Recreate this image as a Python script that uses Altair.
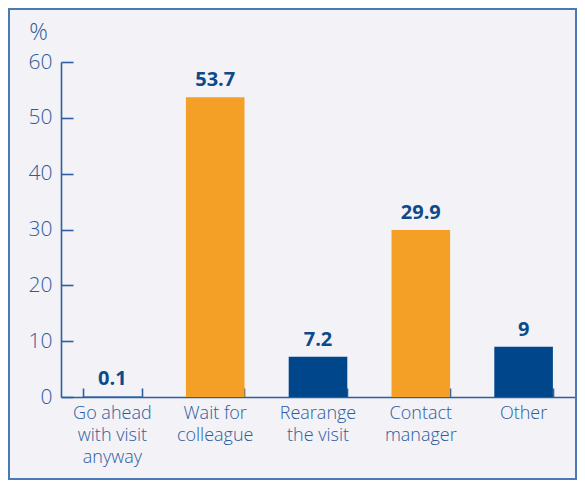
import altair as alt
import pandas as pd

categories = ["Go ahead\nwith visit\nanyway", "Wait for\ncolleague", "Rearange\nthe visit",
              "Contact\nmanager", "Other"]
values = [0.1, 53.7, 7.2, 29.9, 9]
value_labels = ["0.1", "53.7", "7.2", "29.9", "9"]
bar_colors = ["#00468b", "#f4a026", "#00468b", "#f4a026", "#00468b"]
y_ticks = [0, 10, 20, 30, 40, 50, 60]

df = pd.DataFrame({"category": categories, "value": values, "label": value_labels})

W, H = 514, 335
AXIS = "#2e5f9e"
LABEL = "#2d5c9b"
VALUE = "#0c4a8a"
FONT = "Open Sans"

x_scale = alt.Scale(domain=categories, paddingInner=0.43, paddingOuter=0.215)
y_scale = alt.Scale(domain=[0, 60], nice=False)

base = alt.Chart(df)

bars = base.mark_bar().encode(
    x=alt.X("category:N", sort=categories, scale=x_scale,
            axis=alt.Axis(orient="bottom", ticks=False, domain=True, domainColor=AXIS,
                          domainWidth=1.6, labelAngle=0, labelColor=LABEL,
                          labelExpr="split(datum.label, '\\n')", labelFont=FONT,
                          labelFontSize=18, labelFontWeight=300, labelLineHeight=22,
                          labelPadding=7, labelBaseline="top", title=None)),
    y=alt.Y("value:Q", scale=y_scale,
            axis=alt.Axis(values=y_ticks, ticks=False, domain=True, domainColor=AXIS,
                          domainWidth=1.6, grid=False, labelColor=LABEL, labelFont=FONT,
                          labelFontSize=21, labelFontWeight=300, labelPadding=9,
                          title="%", titleAngle=0, titleAlign="center",
                          titleBaseline="bottom", titleX=-23, titleY=-18, titleFont=FONT,
                          titleFontSize=23, titleFontWeight=300, titleColor=LABEL)),
    color=alt.Color("category:N", scale=alt.Scale(domain=categories, range=bar_colors),
                    legend=None),
)

text = base.mark_text(dy=-7, baseline="bottom", font=FONT, fontSize=20,
                      fontWeight="bold", color=VALUE).encode(
    x=alt.X("category:N", sort=categories, scale=x_scale,
            axis=alt.Axis(orient="top", offset=-H, labels=False, domain=False, ticks=True,
                          tickBand="extent", tickSize=9, tickColor=AXIS, tickWidth=1.6,
                          title=None)),
    y=alt.Y("value:Q", scale=y_scale,
            axis=alt.Axis(orient="right", offset=-W, labels=False, domain=False, ticks=True,
                          values=y_ticks, tickSize=12, tickColor=AXIS, tickWidth=1.6,
                          grid=False, title=None)),
    text="label:N",
)

frame = alt.Chart(pd.DataFrame({"f": [0]})).mark_rect(
    filled=False, stroke="#4a7ab5", strokeWidth=2
).encode(
    x=alt.value(-52), x2=alt.value(W + 1), y=alt.value(-53), y2=alt.value(H + 82)
)

chart = alt.layer(frame, bars, text).resolve_axis(
    x="independent", y="independent"
).properties(
    width=W, height=H,
    padding={"left": 53, "top": 54, "right": 2, "bottom": 83},
    autosize=alt.AutoSizeParams(type="none"),
    background="#f2f2f7",
).configure_view(stroke=None)

chart.save("out.html", embed_options={"renderer": "svg", "actions": False})
